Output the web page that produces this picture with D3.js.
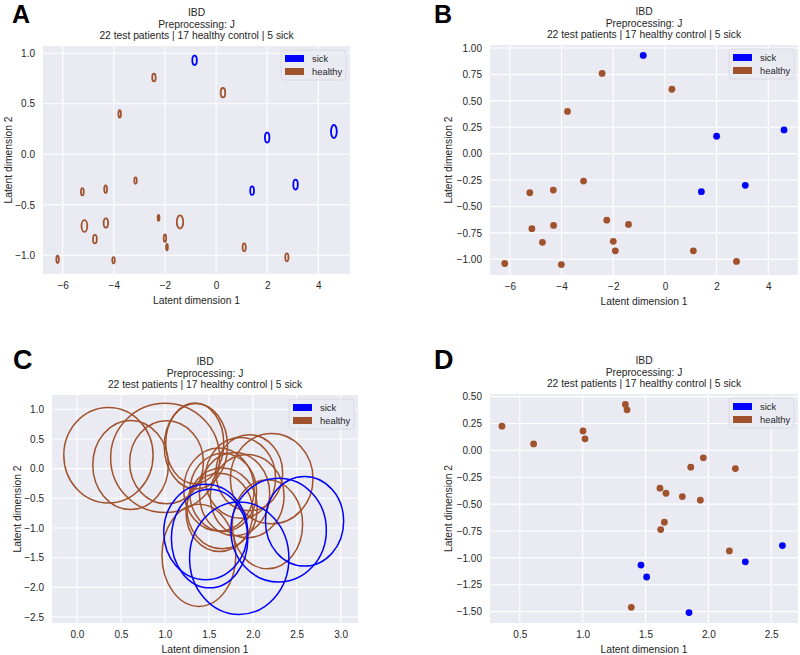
<!DOCTYPE html>
<html>
<head>
<meta charset="utf-8">
<script src="https://cdn.jsdelivr.net/npm/d3@7"></script>
<style>
  body { margin: 0; background: #fff; }
  svg { font-family: "Liberation Sans", Arial, sans-serif; }
  .tick text { font-size: 10px; fill: #262626; }
  .title, .axlabel { font-size: 10.3px; fill: #262626; }
  .letter { font-weight: bold; fill: #000; }
</style>
</head>
<body>
<div id="chart"></div>
<script>
// Panels A/B: latent means (x, y), class and spread (A ellipses)
var abX = [-0.84, -2.43, 0.27, -3.77, 2.0, 4.61, -3.15, -5.23, -4.32, 1.41, 3.11,
           -2.25, -1.41, -5.15, -4.31, -4.74, -2.0, -1.92, 1.10, 2.77, -6.2, -4.01];
var abY = [0.93, 0.76, 0.61, 0.40, 0.165, 0.225, -0.26, -0.37, -0.345, -0.36, -0.30,
           -0.63, -0.67, -0.71, -0.68, -0.84, -0.83, -0.92, -0.92, -1.02, -1.04, -1.05];
var abGroup = ["sick", "healthy", "healthy", "healthy", "sick", "sick", "healthy", "healthy", "healthy", "sick", "sick",
               "healthy", "healthy", "healthy", "healthy", "healthy", "healthy", "healthy", "healthy", "healthy", "healthy", "healthy"];
var aSdX = [0.088, 0.068, 0.088, 0.049, 0.088, 0.113, 0.049, 0.055, 0.055, 0.074, 0.088,
            0.035, 0.127, 0.113, 0.088, 0.074, 0.049, 0.035, 0.063, 0.063, 0.049, 0.049];
var aSdY = [0.046, 0.039, 0.046, 0.036, 0.049, 0.065, 0.032, 0.036, 0.036, 0.042, 0.049,
            0.029, 0.065, 0.058, 0.046, 0.042, 0.036, 0.032, 0.039, 0.039, 0.036, 0.032];

// Panels C/D
var cdX = [0.358, 0.61, 1.003, 1.019, 1.34, 1.353, 1.96, 1.86, 2.215, 1.615, 1.663,
           1.793, 1.936, 1.65, 1.621, 2.167, 1.387, 1.464, 1.509, 2.294, 2.589, 1.846];
var cdY = [0.225, 0.06, 0.18, 0.107, 0.427, 0.377, -0.07, -0.157, -0.17, -0.352, -0.399,
           -0.43, -0.464, -0.669, -0.737, -0.936, -1.46, -1.067, -1.178, -1.037, -0.886, -1.509];
var cdGroup = ["healthy", "healthy", "healthy", "healthy", "healthy", "healthy", "healthy", "healthy", "healthy", "healthy", "healthy",
               "healthy", "healthy", "healthy", "healthy", "healthy", "healthy", "sick", "sick", "sick", "sick", "sick"];
var cSdX = [0.508, 0.43, 0.62, 0.42, 0.33, 0.36, 0.38, 0.40, 0.47, 0.40, 0.38,
            0.40, 0.42, 0.40, 0.38, 0.40, 0.42, 0.477, 0.435, 0.543, 0.445, 0.565];
var cSdY = [0.805, 0.75, 0.92, 0.70, 0.68, 0.72, 0.64, 0.68, 0.76, 0.70, 0.66,
            0.70, 0.70, 0.68, 0.66, 0.75, 0.86, 0.805, 0.83, 0.873, 0.754, 0.946];

// ticks
var xTicksAB = [-6, -4, -2, 0, 2, 4];
var yTicksA = [-1.0, -0.5, 0.0, 0.5, 1.0];
var yTicksB = [-1.0, -0.75, -0.5, -0.25, 0.0, 0.25, 0.5, 0.75, 1.0];
var xTicksC = [0.0, 0.5, 1.0, 1.5, 2.0, 2.5, 3.0];
var yTicksC = [-2.5, -2.0, -1.5, -1.0, -0.5, 0.0, 0.5, 1.0];
var xTicksD = [0.5, 1.0, 1.5, 2.0, 2.5];
var yTicksD = [-1.5, -1.25, -1.0, -0.75, -0.5, -0.25, 0.0, 0.25, 0.5];

var groups = ["sick", "healthy"];
var titleLines = ["IBD", "Preprocessing: J", "22 test patients | 17 healthy control | 5 sick"];

var colour = d3.scaleOrdinal().domain(groups).range(["#0000ff", "#a0522d"]);

var svg = d3.select("#chart").append("svg")
  .attr("width", 800)
  .attr("height", 655);

function drawPanel(p) {
  var w = p.right - p.left;
  var h = p.bottom - p.top;

  var x = d3.scaleLinear().domain(p.xDomain).range([p.left, p.right]);
  var y = d3.scaleLinear().domain(p.yDomain).range([p.bottom, p.top]);

  var g = svg.append("g");

  // panel letter
  g.append("text")
    .attr("class", "letter")
    .attr("x", p.letterX)
    .attr("y", p.letterY)
    .style("font-size", p.letterSize + "px")
    .text(p.letter);

  // background
  g.append("rect")
    .attr("x", p.left).attr("y", p.top)
    .attr("width", w).attr("height", h)
    .attr("fill", "#eaeaf2");

  // grid
  g.selectAll(".vgrid")
    .data(p.xTicks)
    .enter().append("line")
    .attr("x1", d => x(d)).attr("x2", d => x(d))
    .attr("y1", p.top).attr("y2", p.bottom)
    .attr("stroke", "#fff").attr("stroke-width", 1.1);

  g.selectAll(".hgrid")
    .data(p.yTicks)
    .enter().append("line")
    .attr("y1", d => y(d)).attr("y2", d => y(d))
    .attr("x1", p.left).attr("x2", p.right)
    .attr("stroke", "#fff").attr("stroke-width", 1.1);

  // axes (labels only)
  var xAxis = g.append("g")
    .attr("transform", `translate(0, ${p.bottom})`)
    .call(d3.axisBottom(x).tickValues(p.xTicks).tickFormat(d3.format(p.xFormat)).tickSize(0).tickPadding(8));
  var yAxis = g.append("g")
    .attr("transform", `translate(${p.left}, 0)`)
    .call(d3.axisLeft(y).tickValues(p.yTicks).tickFormat(d3.format(p.yFormat)).tickSize(0).tickPadding(8));
  xAxis.select(".domain").remove();
  yAxis.select(".domain").remove();
  g.selectAll(".tick text").attr("font-family", null).attr("font-size", null);

  // titles
  titleLines.forEach(function(t, i) {
    g.append("text")
      .attr("class", "title")
      .attr("x", (p.left + p.right) / 2)
      .attr("y", p.top - 7 - (titleLines.length - 1 - i) * 11.3)
      .attr("text-anchor", "middle")
      .text(t);
  });

  g.append("text")
    .attr("class", "axlabel")
    .attr("x", (p.left + p.right) / 2)
    .attr("y", p.bottom + 30)
    .attr("text-anchor", "middle")
    .text("Latent dimension 1");

  g.append("text")
    .attr("class", "axlabel")
    .attr("transform", `translate(${p.left - p.yLabelOffset}, ${(p.top + p.bottom) / 2}) rotate(-90)`)
    .attr("text-anchor", "middle")
    .text("Latent dimension 2");

  // marks
  var clipId = "clip" + p.letter;
  svg.append("clipPath").attr("id", clipId)
    .append("rect")
    .attr("x", p.left).attr("y", p.top)
    .attr("width", w).attr("height", h);

  var rows = p.xs.map(function(v, i) {
    return { x: v, y: p.ys[i], group: p.group[i], sx: p.sx ? p.sx[i] : 0, sy: p.sy ? p.sy[i] : 0 };
  });
  // healthy first, sick on top
  rows.sort((a, b) => (a.group === "sick") - (b.group === "sick"));

  var marks = g.append("g").attr("clip-path", `url(#${clipId})`);
  if (p.type === "ellipse") {
    marks.selectAll("ellipse")
      .data(rows)
      .enter().append("ellipse")
      .attr("cx", d => x(d.x))
      .attr("cy", d => y(d.y))
      .attr("rx", d => x(d.x + d.sx) - x(d.x))
      .attr("ry", d => y(d.y) - y(d.y + d.sy))
      .attr("fill", "none")
      .attr("stroke", d => colour(d.group))
      .attr("stroke-width", p.strokeWidth);
  } else {
    marks.selectAll("circle")
      .data(rows)
      .enter().append("circle")
      .attr("cx", d => x(d.x))
      .attr("cy", d => y(d.y))
      .attr("r", 3.4)
      .attr("fill", d => colour(d.group));
  }

  // legend
  var lw = 65, lh = 30;
  var lx = p.right - 4 - lw, ly = p.top + 4;
  var legend = g.append("g").attr("transform", `translate(${lx}, ${ly})`);
  legend.append("rect")
    .attr("width", lw).attr("height", lh)
    .attr("rx", 3)
    .attr("fill", "#eaeaf2")
    .attr("fill-opacity", 0.8)
    .attr("stroke", "#d6d6de")
    .attr("stroke-width", 0.8);
  groups.forEach(function(k, i) {
    legend.append("rect")
      .attr("x", 4).attr("y", 5 + i * 13)
      .attr("width", 19).attr("height", 7)
      .attr("fill", colour(k));
    legend.append("text")
      .attr("x", 31).attr("y", 11.5 + i * 13)
      .style("font-size", "9.4px")
      .attr("fill", "#262626")
      .text(k);
  });
}

drawPanel({
  letter: "A", letterX: 12, letterY: 23, letterSize: 25,
  left: 43, right: 350, top: 46, bottom: 274,
  xDomain: [-6.77, 5.24], yDomain: [-1.185, 1.072],
  xTicks: xTicksAB, yTicks: yTicksA, xFormat: "d", yFormat: ".1f",
  yLabelOffset: 31,
  xs: abX, ys: abY, group: abGroup, sx: aSdX, sy: aSdY,
  type: "ellipse", strokeWidth: 1.8
});

drawPanel({
  letter: "B", letterX: 434, letterY: 23, letterSize: 25,
  left: 490, right: 798, top: 45, bottom: 275,
  xDomain: [-6.77, 5.15], yDomain: [-1.149, 1.029],
  xTicks: xTicksAB, yTicks: yTicksB, xFormat: "d", yFormat: ".2f",
  yLabelOffset: 38,
  xs: abX, ys: abY, group: abGroup,
  type: "dot"
});

drawPanel({
  letter: "C", letterX: 13, letterY: 369, letterSize: 27,
  left: 52, right: 358, top: 395, bottom: 623,
  xDomain: [-0.284, 3.197], yDomain: [-2.60, 1.24],
  xTicks: xTicksC, yTicks: yTicksC, xFormat: ".1f", yFormat: ".1f",
  yLabelOffset: 31,
  xs: cdX, ys: cdY, group: cdGroup, sx: cSdX, sy: cSdY,
  type: "ellipse", strokeWidth: 1.5
});

drawPanel({
  letter: "D", letterX: 434, letterY: 369, letterSize: 27,
  left: 490, right: 798, top: 394, bottom: 623,
  xDomain: [0.263, 2.713], yDomain: [-1.606, 0.524],
  xTicks: xTicksD, yTicks: yTicksD, xFormat: ".1f", yFormat: ".2f",
  yLabelOffset: 38,
  xs: cdX, ys: cdY, group: cdGroup,
  type: "dot"
});
</script>
</body>
</html>
